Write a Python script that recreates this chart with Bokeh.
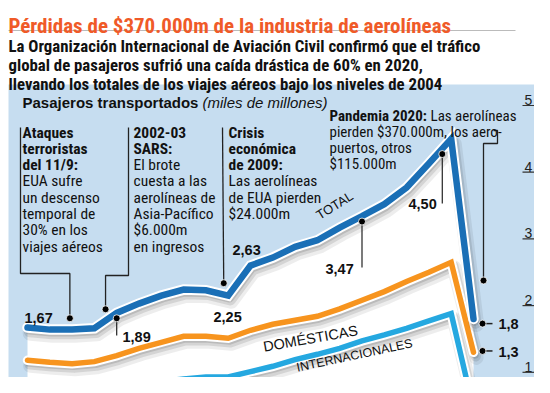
import numpy as np
from bokeh.plotting import figure
from bokeh.models import Label, Range1d
from bokeh.embed import file_html
from bokeh.resources import INLINE

# ---------------- data ----------------
years = list(range(2000, 2021))
total = [1.67, 1.64, 1.64, 1.66, 1.89, 2.03, 2.15, 2.24, 2.23, 2.15, 2.60,
         2.72, 2.88, 2.98, 3.17, 3.34, 3.52, 3.77, 4.13, 4.50, 1.80]
domestic = [1.18, 1.15, 1.13, 1.16, 1.25, 1.36, 1.45, 1.54, 1.54, 1.51, 1.63,
            1.72, 1.78, 1.84, 1.95, 2.08, 2.21, 2.36, 2.50, 2.65, 1.30]
international = [0.55, 0.56, 0.58, 0.63, 0.72, 0.79, 0.86, 0.90, 0.93, 0.93, 1.01,
                 1.09, 1.19, 1.27, 1.36, 1.47, 1.56, 1.66, 1.77, 1.88, 0.45]
axis_ticks = [1, 2, 3, 4, 5]
axis_tick_labels = ["1", "2", "3", "4", "5"]

title = "Pérdidas de $370.000m de la industria de aerolíneas"
subtitle_lines = [
    "La Organización Internacional de Aviación Civil confirmó que el tráfico",
    "global de pasajeros sufrió una caída drástica de 60% en 2020,",
    "llevando los totales de los viajes aéreos bajo los niveles de 2004",
]
header_bold = "Pasajeros transportados"
header_italic = "(miles de millones)"
series_names = ["TOTAL", "DOMÉSTICAS", "INTERNACIONALES"]

note_911 = [("Ataques", True), ("terroristas", True), ("del 11/9:", True),
            ("EUA sufre", False), ("un descenso", False), ("temporal de", False),
            ("30% en los", False), ("viajes aéreos", False)]
note_sars = [("2002-03", True), ("SARS:", True), ("El brote", False),
             ("cuesta a las", False), ("aerolíneas de", False),
             ("Asia-Pacífico", False), ("$6.000m", False), ("en ingresos", False)]
note_crisis = [("Crisis", True), ("económica", True), ("de 2009:", True),
               ("Las aerolíneas", False), ("de EUA pierden", False), ("$24.000m", False)]
note_pandemic_head = ("Pandemia 2020:", "Las aerolíneas")
note_pandemic = ["pierden $370.000m, los aero-", "puertos, otros", "$115.000m"]

callout_text = ["1,67", "1,89", "2,25", "2,63", "3,47", "4,50", "1,8"]
dom_2020_text = "1,3"

# ---------------- layout ----------------
W, H = 534, 377
X0, DX = 27.0, 22.3     # picture px of year 2000, px per year
Y5, DY = 105.0, 66.7    # picture px of value 5, px per unit


def px_x(px):
    return 2000 + (px - X0) / DX


def px_y(py):
    return 5 - (py - Y5) / DY


BLUE_BG = "#c6ddf0"
C_TOTAL = "#1a6fb6"
C_DOM = "#f7941e"
C_INT = "#25a8e0"
NARROW = "Roboto Condensed"
SANS = "Liberation Sans"

p = figure(width=W, height=H, output_backend="svg", toolbar_location=None,
           x_range=Range1d(px_x(0), px_x(W)),
           y_range=Range1d(px_y(H), px_y(0)),
           x_axis_location=None, y_axis_location=None, min_border=0,
           outline_line_color=None)
p.grid.visible = False
p.background_fill_color = "white"
p.border_fill_color = "white"

# panel background
p.quad(left=[px_x(8)], right=[px_x(540)], top=[px_y(84)], bottom=[px_y(400)],
       fill_color=BLUE_BG, line_color=None)

# white area under total line
bottom = px_y(400)
p.patch(years + [years[-1], years[0]], total + [bottom, bottom],
        fill_color="white", line_color=None)

yrs = np.array(years, dtype=float)


def draw_series(vals, color, width):
    v = np.array(vals)
    for off, a, extra in [(0.16, 0.07, 9), (0.12, 0.10, 5), (0.08, 0.12, 2)]:
        p.line(yrs + off * 0.8, v - off * 0.5, line_color="black", line_alpha=a,
               line_width=width + extra, line_join="round", line_cap="round")
    p.line(yrs, v, line_color="white", line_width=width + 4, line_join="miter",
           line_cap="round")
    p.line(yrs, v, line_color=color, line_width=width, line_join="miter",
           line_cap="round")


draw_series(international, C_INT, 5.5)
draw_series(domestic, C_DOM, 5.5)
draw_series(total, C_TOTAL, 6.5)

# right axis ticks
for t, lab in zip(axis_ticks, axis_tick_labels):
    p.segment(x0=[px_x(522)], x1=[px_x(534)], y0=[t], y1=[t], line_color="#333",
              line_width=1.2)
    p.add_layout(Label(x=px_x(528), y=t + 5.5 / DY, text=lab, text_font=SANS,
                       text_font_size="14px", text_color="#222", text_align="center",
                       text_baseline="alphabetic"))

# title & subtitle
p.add_layout(Label(x=px_x(8), y=px_y(25), text=title, text_font=NARROW,
                   text_font_size="21px", text_font_style="bold",
                   text_color="#f05a28", text_baseline="alphabetic"))
p.segment(x0=[px_x(8)], x1=[px_x(515)], y0=[px_y(30)], y1=[px_y(30)],
          line_color="#bbbbbb", line_width=1)
for i, s in enumerate(subtitle_lines):
    p.add_layout(Label(x=px_x(8), y=px_y(45 + i * 19), text=s, text_font=NARROW,
                       text_font_size="16.8px", text_font_style="bold",
                       text_color="#111", text_baseline="alphabetic"))

p.add_layout(Label(x=px_x(22), y=px_y(102), text=header_bold, text_font=SANS,
                   text_font_size="15px", text_font_style="bold", text_color="#111",
                   text_baseline="alphabetic"))
p.add_layout(Label(x=px_x(202), y=px_y(102), text=header_italic, text_font=SANS,
                   text_font_size="15px", text_font_style="italic", text_color="#111",
                   text_baseline="alphabetic"))


def note(lines, xpx, base, step=16.3, size="15.5px"):
    for i, (s, b) in enumerate(lines):
        p.add_layout(Label(x=px_x(xpx), y=px_y(base + i * step), text=s,
                           text_font=NARROW, text_font_size=size,
                           text_font_style="bold" if b else "normal",
                           text_color="#111", text_baseline="alphabetic"))


note(note_911, 22, 132)
note(note_sars, 133, 132)
note(note_crisis, 228, 132)
p.add_layout(Label(x=px_x(329), y=px_y(115), text=note_pandemic_head[0],
                   text_font=NARROW, text_font_size="15px", text_font_style="bold",
                   text_color="#111", text_baseline="alphabetic"))
p.add_layout(Label(x=px_x(430), y=px_y(115), text=note_pandemic_head[1],
                   text_font=NARROW, text_font_size="15px", text_color="#111",
                   text_baseline="alphabetic"))
note([(s, False) for s in note_pandemic], 329, 131, 16, "15px")

# bracket leaders and dots
LC = "#222"


def on_total(yr, off):
    return float(np.interp(yr, yrs, total)) + off


d911 = (2001.9, on_total(2001.9, 0.17))
dsars = (2003.5, on_total(2003.5, 0.17))
dcris = (2008.8, on_total(2008.8, 0.17))
p.line([px_x(20), px_x(20), d911[0], d911[0]],
       [px_y(127), px_y(273), px_y(273), d911[1]], line_color=LC, line_width=1.3)
p.line([px_x(128), px_x(128), dsars[0], dsars[0]],
       [px_y(127), px_y(275), px_y(275), dsars[1]], line_color=LC, line_width=1.3)
p.line([px_x(222), dcris[0]], [px_y(127), dcris[1]], line_color=LC, line_width=1.3)
dpan = (px_x(483), px_y(280))
p.line([px_x(493), px_x(497), px_x(497), dpan[0], dpan[0]],
       [px_y(130), px_y(130), px_y(143), px_y(143), dpan[1]], line_color=LC,
       line_width=1.3)

# value markers below line
m189 = (2004.0, on_total(2004.0, -0.08))
m347 = (2015.0, on_total(2015.0, -0.08))
m450 = (2018.6, on_total(2018.6, -0.08))
p.segment(x0=[m189[0], m347[0], m450[0]], x1=[m189[0], m347[0], m450[0]],
          y0=[m189[1], m347[1], m450[1]], y1=[px_y(335), px_y(267), px_y(203)],
          line_color=LC, line_width=1.2)
m18 = (px_x(482), total[-1] - 0.07)
m13 = (px_x(482), domestic[-1] + 0.02)
p.segment(x0=[m18[0], m13[0]], x1=[px_x(492), px_x(492)], y0=[m18[1], m13[1]],
          y1=[m18[1], m13[1]], line_color=LC, line_width=1.5)

dots_x = [d911[0], dsars[0], dcris[0], dpan[0], m189[0], m347[0], m450[0], m18[0], m13[0]]
dots_y = [d911[1], dsars[1], dcris[1], dpan[1], m189[1], m347[1], m450[1], m18[1], m13[1]]
p.scatter(dots_x, dots_y, size=7, fill_color="black", line_color="white",
          line_width=0.8)

# value labels
label_pos = [(24, 317), (122, 336), (213, 316), (232, 249), (325, 268), (408, 203),
             (498, 323)]
for (xp, yp), s in zip(label_pos, callout_text):
    p.add_layout(Label(x=px_x(xp), y=px_y(yp), text=s, text_font=SANS,
                       text_font_size="14.5px", text_font_style="bold",
                       text_color="#111", text_baseline="alphabetic"))
p.add_layout(Label(x=px_x(498), y=px_y(351), text=dom_2020_text, text_font=SANS,
                   text_font_size="14.5px", text_font_style="bold", text_color="#111",
                   text_baseline="alphabetic"))

# series names along lines
for name, (xp, yp), ang, fs in zip(series_names,
                                   [(334, 205), (310, 338), (354, 355)],
                                   [32, 10, 12], ["13px", "14.5px", "12.5px"]):
    p.add_layout(Label(x=px_x(xp), y=px_y(yp), text=name, text_font=SANS,
                       text_font_size=fs, text_color="#111", text_align="center",
                       text_baseline="middle", angle=np.deg2rad(ang)))

open("out.html", "w").write(file_html(p, INLINE))
